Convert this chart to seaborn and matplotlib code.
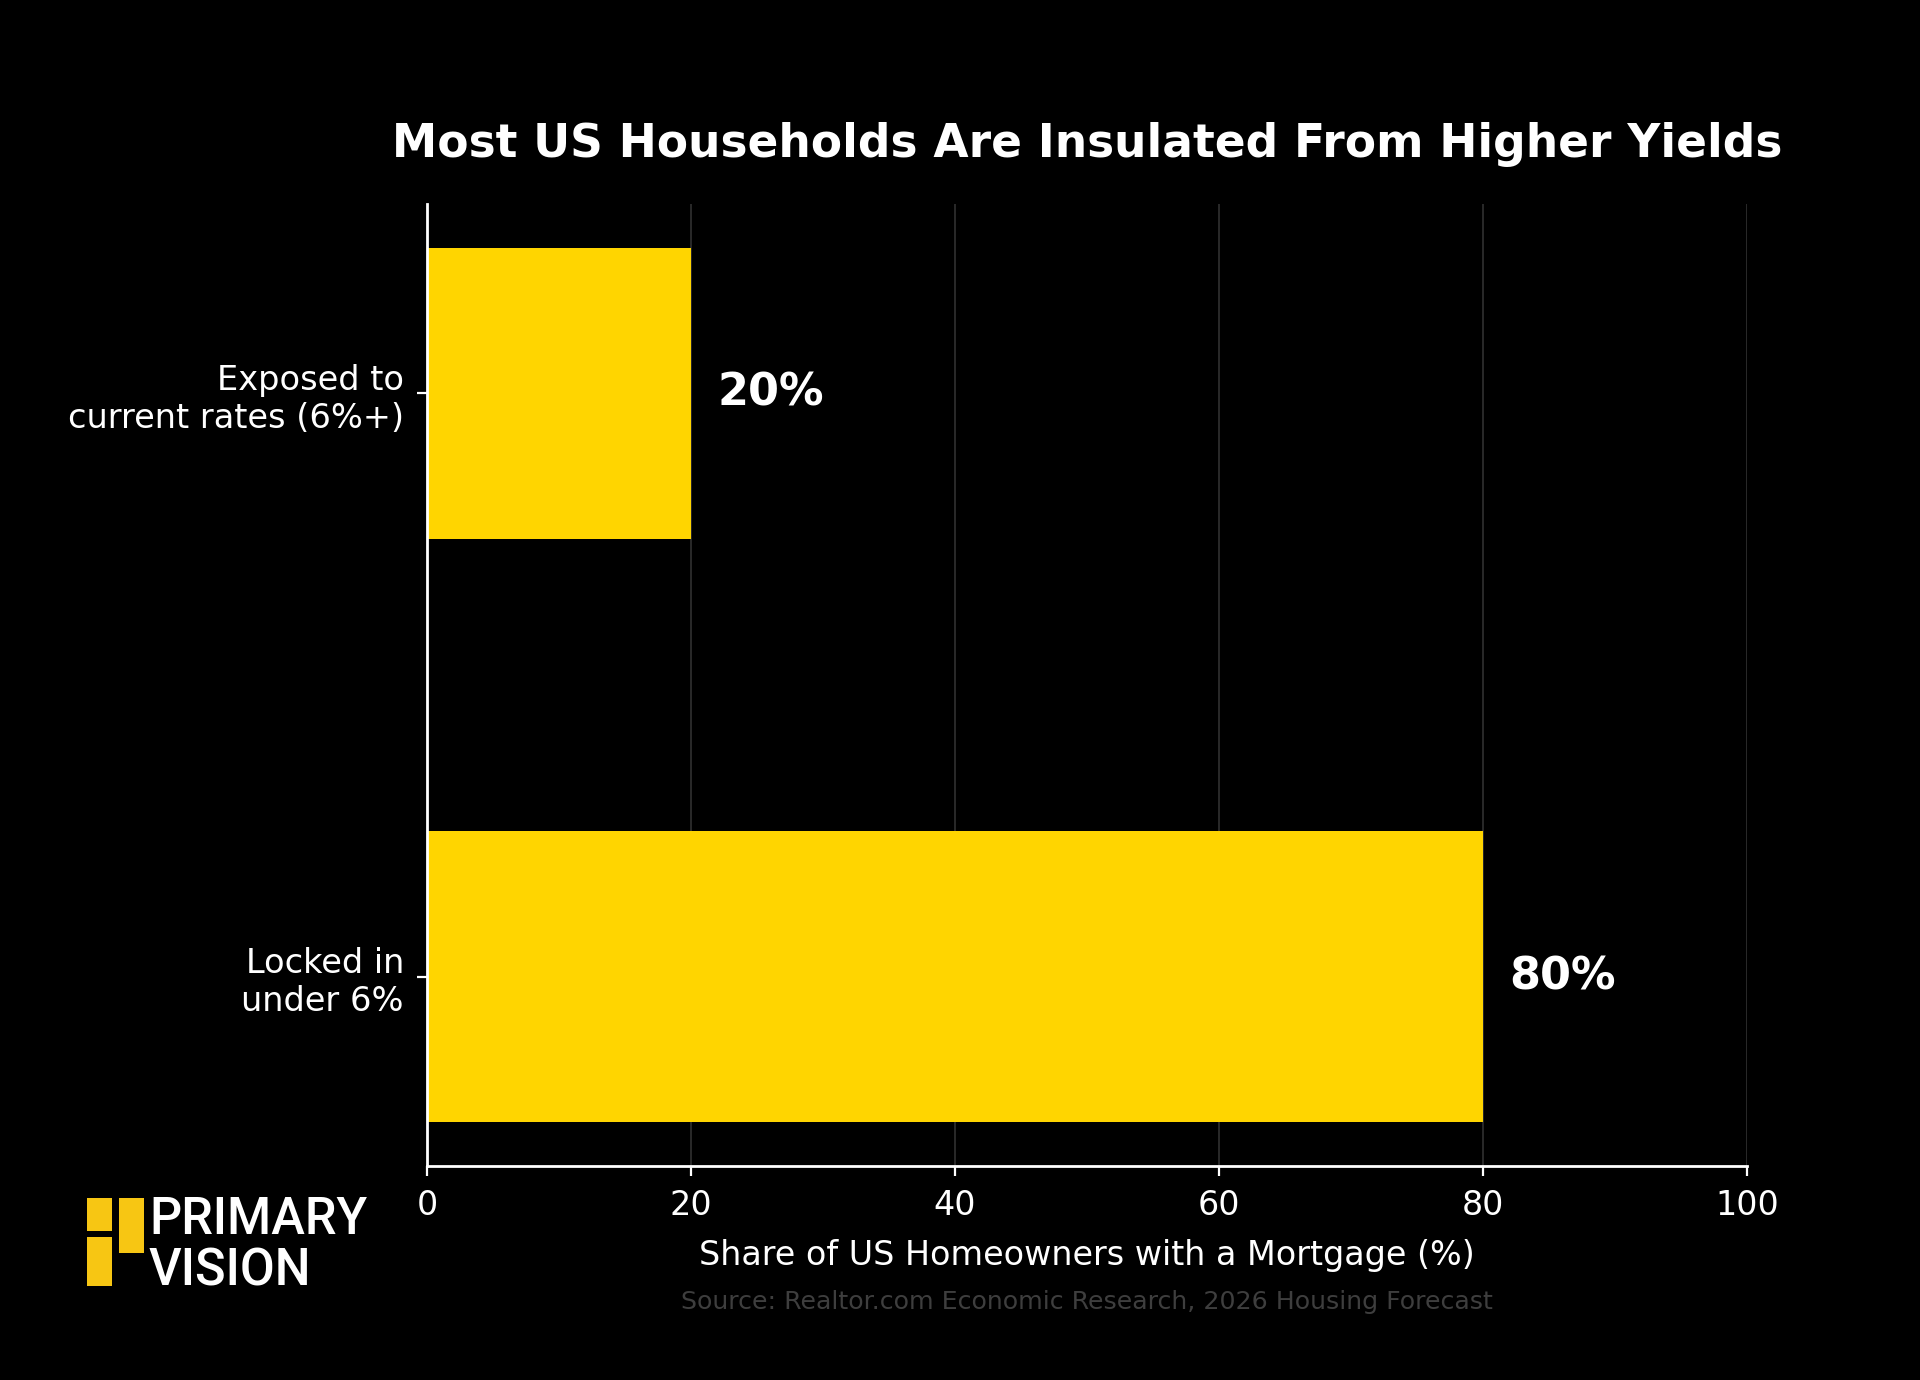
import matplotlib
matplotlib.use("Agg")
import matplotlib.pyplot as plt
import seaborn as sns
import pandas as pd
from matplotlib.patches import Rectangle

# chart data
categories = ["Exposed to\ncurrent rates (6%+)", "Locked in\nunder 6%"]
shares = [20, 80]
value_labels = ["20%", "80%"]
x_ticks = [0, 20, 40, 60, 80, 100]

title = "Most US Households Are Insulated From Higher Yields"
x_label = "Share of US Homeowners with a Mortgage (%)"
source = "Source: Realtor.com Economic Research, 2026 Housing Forecast"

bar_color = "#FFD500"
logo_color = "#F7C613"

sns.set_theme(style="dark", rc={
    "figure.facecolor": "black",
    "axes.facecolor": "black",
    "axes.edgecolor": "white",
    "axes.labelcolor": "white",
    "xtick.color": "white",
    "ytick.color": "white",
    "text.color": "white",
    "xtick.bottom": True,
    "ytick.left": True,
})
plt.rcParams["font.family"] = ["DejaVu Sans"]

df = pd.DataFrame({"category": categories, "share": shares})

fig = plt.figure(figsize=(9.6, 6.9), dpi=200)
ax = fig.add_axes([0.2224, 0.155, 0.6875, 0.6972])

sns.barplot(data=df, x="share", y="category", orient="h", color=bar_color,
            saturation=1, width=0.5, linewidth=0, ax=ax, zorder=3)

ax.set_xlim(0, 100)
ax.set_ylim(1.325, -0.325)
ax.set_xticks(x_ticks)
ax.tick_params(axis="both", labelsize=12, length=3.5, width=0.8, colors="white")
ax.tick_params(axis="x", pad=4.8)
ax.tick_params(axis="y", pad=4.8, labelsize=12.1)
ax.set_ylabel("")
ax.set_xlabel(x_label, fontsize=12, labelpad=6)

ax.grid(axis="x", color="#2a2a2a", linewidth=0.7, zorder=0)
ax.grid(axis="y", visible=False)
for side in ["top", "right"]:
    ax.spines[side].set_visible(False)
for side in ["left", "bottom"]:
    ax.spines[side].set_color("white")
    ax.spines[side].set_linewidth(1.0)
    ax.spines[side].set_zorder(4)

# value labels next to bars
for i, (v, lab) in enumerate(zip(shares, value_labels)):
    ax.text(v + 2, i, lab, va="center", ha="left", fontsize=16,
            fontweight="bold", color="white")

fig.text(0.5662, 0.8952, title, ha="center", va="center", fontsize=16.4,
         fontweight="bold", color="white")
fig.text(0.5662, 0.0565, source, ha="center", va="center", fontsize=9.1,
         color="#3e3e3e")

# logo
W, H = 1920, 1380
for x0, y0, x1, y1 in [(87, 1198, 112, 1231), (87, 1237, 112, 1286), (119, 1198, 144, 1253)]:
    fig.patches.append(Rectangle((x0 / W, 1 - y1 / H), (x1 - x0) / W, (y1 - y0) / H,
                                 transform=fig.transFigure, facecolor=logo_color,
                                 edgecolor="none"))
fig.text(149 / W, 1 - 1234 / H, "PRIMARY", ha="left", va="baseline", fontsize=18.2,
         family=["Roboto", "DejaVu Sans"], fontweight="medium", color="white")
fig.text(149 / W, 1 - 1286 / H, "VISION", ha="left", va="baseline", fontsize=18.2,
         family=["Roboto", "DejaVu Sans"], fontweight="medium", color="white")

fig.savefig("out.png", dpi=200, facecolor="black")
